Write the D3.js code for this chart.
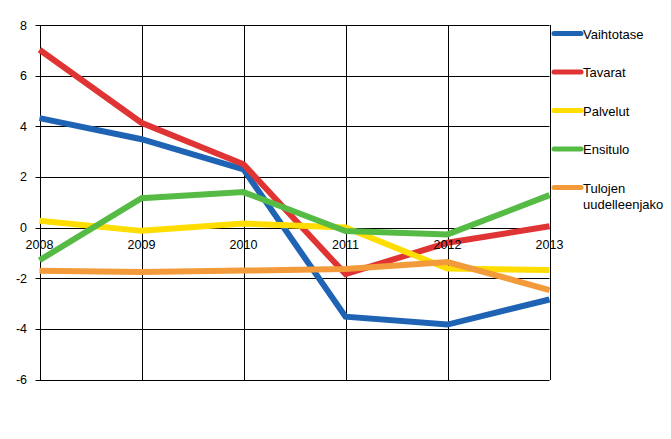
<!DOCTYPE html>
<html><head><meta charset="utf-8">
<script src="https://cdn.jsdelivr.net/npm/d3@7"></script>
<style>body{margin:0;background:#fff}svg{display:block}text{font-family:"Liberation Sans",Arial,sans-serif;font-size:12.5px;fill:#000}.lg{font-size:13px}</style>
</head><body><svg id="c" width="671" height="439"></svg>
<script>
const years = [2008, 2009, 2010, 2011, 2012, 2013];
const yTicks = [-6, -4, -2, 0, 2, 4, 6, 8];
const seriesNames = ["Vaihtotase", "Tavarat", "Palvelut", "Ensitulo", "Tulojen uudelleenjako"];
const vaihtotase = [4.32, 3.49, 2.3, -3.52, -3.83, -2.84];
const tavarat = [7.02, 4.14, 2.5, -1.84, -0.6, 0.05];
const palvelut = [0.27, -0.13, 0.16, 0.0, -1.62, -1.68];
const ensitulo = [-1.29, 1.16, 1.4, -0.14, -0.27, 1.28];
const tulojen = [-1.71, -1.75, -1.70, -1.64, -1.36, -2.47];
const colors = ["#1f64b4", "#e03434", "#ffdd00", "#55bb44", "#f39a3a"];
const allSeries = [vaihtotase, tavarat, palvelut, ensitulo, tulojen];

const svg = d3.select("#c");
const L = 39.5, R = 549.5, T = 25, B = 379.5;
const x = d3.scaleLinear().domain([2008, 2013]).range([L, R]);
const y = d3.scaleLinear().domain([-6, 8]).range([B, T]);

svg.append("g").selectAll("line").data(yTicks).join("line")
  .attr("x1", L - 4).attr("x2", R).attr("y1", d => Math.round(y(d)) + 0.5).attr("y2", d => Math.round(y(d)) + 0.5)
  .attr("stroke", "#000").attr("stroke-width", 1);
svg.append("g").selectAll("line").data(years).join("line")
  .attr("x1", d => Math.round(x(d)) + 0.5).attr("x2", d => Math.round(x(d)) + 0.5).attr("y1", T).attr("y2", B + 0.5)
  .attr("stroke", "#000").attr("stroke-width", 1);

svg.append("g").selectAll("text").data(yTicks).join("text")
  .attr("x", 27).attr("y", d => y(d) + 4.5).attr("text-anchor", "end").text(d => d);

const line = d3.line().x((d, i) => x(years[i])).y(d => y(d));
allSeries.forEach((s, k) => {
  svg.append("path").attr("d", line(s)).attr("fill", "none").attr("stroke", colors[k])
    .attr("stroke-width", 6).attr("stroke-linejoin", "miter");
});

svg.append("g").selectAll("text").data(years).join("text")
  .attr("x", d => x(d)).attr("y", y(0) + 21).attr("text-anchor", "middle").text(d => d);

const rowY = [33.5, 72, 110.5, 149, 187.5];
const lg = svg.append("g");
seriesNames.forEach((n, k) => {
  lg.append("line").attr("x1", 554).attr("x2", 581).attr("y1", rowY[k]).attr("y2", rowY[k])
    .attr("stroke", colors[k]).attr("stroke-width", 5).attr("stroke-linecap", "round");
  const parts = n === "Tulojen uudelleenjako" ? ["Tulojen", "uudelleenjako"] : [n];
  parts.forEach((p, j) => {
    lg.append("text").attr("class", "lg").attr("x", 583).attr("y", rowY[k] + 5 + j * 16).text(p);
  });
});
</script></body></html>
